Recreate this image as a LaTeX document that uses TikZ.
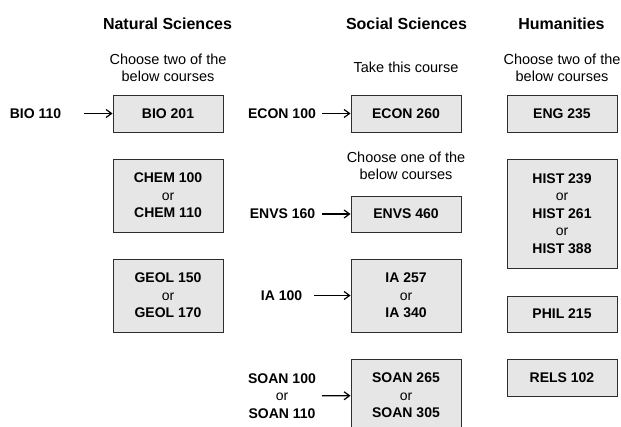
\documentclass[tikz,border=0pt]{standalone}
\usepackage{fontspec}
\setmainfont{Liberation Sans}
\usetikzlibrary{arrows.meta}
\definecolor{boxfill}{RGB}{230,230,230}
\definecolor{boxline}{RGB}{45,45,45}
\newcommand{\oropt}{\\{\mdseries or}\\}
\tikzstyle{arrow} = [-{Straight Barb[length=5.5pt, width=8pt]}, line width=1.2pt, draw=black]
\tikzset{
    coursebox/.style={draw=boxline, fill=boxfill, line width=0.9pt, minimum width=110pt,
        minimum height=#1, inner sep=0pt, align=center,
        font=\fontsize{14}{17.5}\selectfont\bfseries},
    coursebox/.default=37pt,
    prereq/.style={inner sep=0pt, align=center, font=\fontsize{14}{17.5}\selectfont\bfseries},
    heading/.style={font=\fontsize{16}{19}\selectfont\bfseries},
    note/.style={align=center, font=\fontsize{14.5}{17}\selectfont},
}

\begin{document}
\begin{tikzpicture}[x=1pt, y=-1pt]
            \useasboundingbox (0,0) rectangle (621,427);
            \clip (0,0) rectangle (621,427);

            % column headings
            \node[heading] (natural) at (167.5,23.5) {Natural Sciences};
            \node[heading] (social) at (406.5,23.5) {Social Sciences};
            \node[heading] (humanities) at (561.5,23.5) {Humanities};

            % instructions
            \node[note] (natnote) at (168,67.5) {Choose two of the\\below courses};
            \node[note] (socnote) at (406,67.5) {Take this course};
            \node[note] (socnote2) at (406,166) {Choose one of the\\below courses};
            \node[note] (humnote) at (562,67.5) {Choose two of the\\below courses};

            % natural sciences
            \node[coursebox] (bio201) at (168,113.5) {BIO 201};
            \node[coursebox=73pt] (chem) at (168,195.5) {CHEM 100\oropt CHEM 110};
            \node[coursebox=73pt] (geol) at (168,295.5) {GEOL 150\oropt GEOL 170};

            % social sciences
            \node[coursebox] (econ260) at (406,113.5) {ECON 260};
            \node[coursebox=36pt] (envs460) at (406,214) {ENVS 460};
            \node[coursebox=73pt] (ia) at (406,295.5) {IA 257\oropt IA 340};
            \node[coursebox=73pt] (soan) at (406,395.5) {SOAN 265\oropt SOAN 305};

            % humanities
            \node[coursebox] (eng235) at (562,113.5) {ENG 235};
            \node[coursebox=109pt] (hist) at (562,213.5) {HIST 239\oropt HIST 261\oropt HIST 388};
            \node[coursebox=36pt] (phil215) at (562,314) {PHIL 215};
            \node[coursebox] (rels102) at (562,377.5) {RELS 102};

            % prerequisites
            \node[prereq] (bio110) at (35.5,113.5) {BIO 110};
            \node[prereq] (econ100) at (282,113.5) {ECON 100};
            \node[prereq] (envs160) at (282.5,214) {ENVS 160};
            \node[prereq] (ia100) at (281.5,295.5) {IA 100};
            \node[prereq] (soan100) at (282,396) {SOAN 100\oropt SOAN 110};

            \draw[arrow, shorten <=23pt] (bio110) -- (bio201);
            \draw[arrow, shorten <=6pt] (econ100) -- (econ260);
            \draw[arrow, shorten <=7pt] (envs160) -- (envs460);
            \draw[arrow, shorten <=12pt] (ia100) -- (ia);
            \draw[arrow, shorten <=6pt] (soan100) -- (soan);
        \end{tikzpicture}
\end{document}
